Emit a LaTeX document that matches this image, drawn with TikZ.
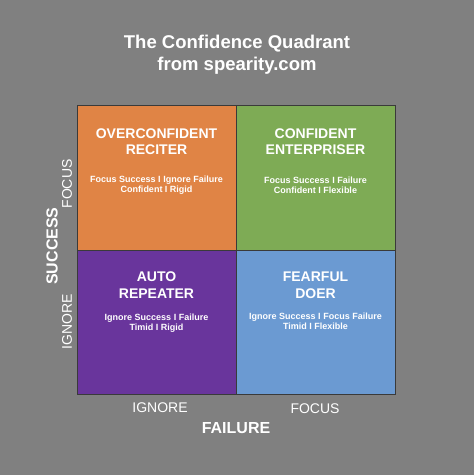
\documentclass[tikz,border=0pt]{standalone}
\usepackage{fontspec}
\setmainfont{Liberation Sans}
\definecolor{bg}{HTML}{808080}
\definecolor{qorange}{HTML}{E08445}
\definecolor{qgreen}{HTML}{7EAB55}
\definecolor{qpurple}{HTML}{69359C}
\definecolor{qblue}{HTML}{6B9AD2}
\definecolor{qedge}{HTML}{3A3A3A}
\begin{document}
\begin{tikzpicture}[x=1pt,y=-1pt,
  quad/.style={draw=qedge,line width=0.8pt},
  qtitle/.style={text=white,font=\fontsize{14}{16.5}\selectfont\bfseries,align=center},
  qsub/.style={text=white,font=\fontsize{9}{10}\selectfont\bfseries,align=center},
  axis/.style={text=white,font=\fontsize{14}{16}\selectfont},
  axisb/.style={text=white,font=\fontsize{16}{18}\selectfont\bfseries},
  head/.style={text=white,font=\fontsize{18.5}{22}\selectfont\bfseries,align=center}]
\fill[bg] (0,0) rectangle (474,475);
\useasboundingbox (0,0) rectangle (474,475);
\node[head] (title) at (237,55) {The Confidence Quadrant\\from spearity.com};
\path[fill=qorange,quad] (77,105) rectangle (236,250) coordinate (qa);
\path[fill=qgreen,quad] (236,105) rectangle (395,250) coordinate (qb);
\path[fill=qpurple,quad] (77,250) rectangle (236,394) coordinate (qc);
\path[fill=qblue,quad] (236,250) rectangle (395,394) coordinate (qd);
\node[qtitle] (t1) at (156.5,141.5) {OVERCONFIDENT\\RECITER};
\node[qsub] (s1) at (156.5,185) {Focus Success I Ignore Failure\\Confident I Rigid};
\node[qtitle] (t2) at (315.5,141.5) {CONFIDENT\\ENTERPRISER};
\node[qsub] (s2) at (315.5,185) {Focus Success I Failure\\Confident I Flexible};
\node[qtitle] (t3) at (156.5,285) {AUTO\\REPEATER};
\node[qsub] (s3) at (156.5,323) {Ignore Success I Failure\\Timid I Rigid};
\node[qtitle] (t4) at (315.5,285) {FEARFUL\\DOER};
\node[qsub] (s4) at (315.5,321) {Ignore Success I Focus Failure\\Timid I Flexible};
\node[axis,rotate=90] (yf) at (67,184) {FOCUS};
\node[axis,rotate=90] (yi) at (67,322) {IGNORE};
\node[axisb,rotate=90] (ys) at (52,246) {SUCCESS};
\node[axis] (xi) at (160,408) {IGNORE};
\node[axis] (xf) at (315,409) {FOCUS};
\node[axisb] (xl) at (236,428) {FAILURE};
\end{tikzpicture}
\end{document}
